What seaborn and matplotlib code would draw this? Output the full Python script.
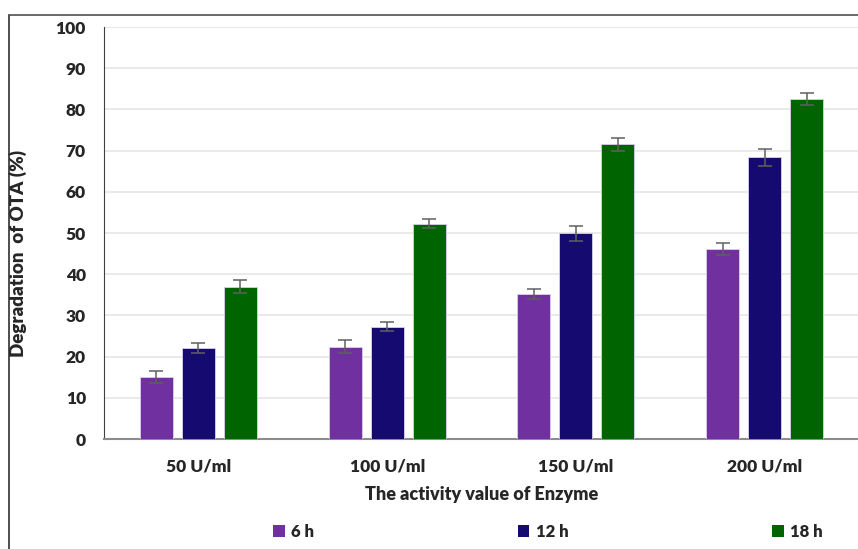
import numpy as np
import pandas as pd
import matplotlib.pyplot as plt
from matplotlib.lines import Line2D
from matplotlib.patches import Patch
import seaborn as sns

sns.set_style("white")
plt.rcParams['font.family'] = ['Lato', 'DejaVu Sans']

# data
enzyme = ["50 U/ml", "100 U/ml", "150 U/ml", "200 U/ml"]
times = ["6 h", "12 h", "18 h"]
deg_6h = [15.0, 22.4, 35.1, 46.1]
deg_12h = [22.0, 27.3, 49.9, 68.4]
deg_18h = [37.0, 52.3, 71.5, 82.6]
err_6h = [1.5, 1.6, 1.2, 1.5]
err_12h = [1.2, 1.0, 1.9, 2.1]
err_18h = [1.6, 1.2, 1.5, 1.5]
colors = ["#7030A0", "#150A70", "#006400"]

df = pd.DataFrame({
    "enzyme": enzyme * 3,
    "time": np.repeat(times, len(enzyme)),
    "value": deg_6h + deg_12h + deg_18h,
})
errs = [err_6h, err_12h, err_18h]

fig = plt.figure(figsize=(8.58, 5.49), dpi=100)
ax = fig.add_axes([104 / 858, 110 / 549, 755 / 858, 412 / 549])

sns.barplot(data=df, x="enzyme", y="value", hue="time", palette=colors,
            saturation=1, width=0.667, gap=0.21, ax=ax, errorbar=None,
            legend=False, edgecolor="#d8d0e8", linewidth=0.6, zorder=3)

# error bars drawn on bar centres
for cont, e in zip(ax.containers, errs):
    xs = [b.get_x() + b.get_width() / 2 for b in cont]
    ys = [b.get_height() for b in cont]
    ax.errorbar(xs, ys, yerr=e, fmt="none", ecolor="#606060", elinewidth=1.1,
                capsize=5, capthick=1.1, zorder=4)

ax.set_ylim(0, 100)
ax.set_xlim(-0.5, 3.5)
ax.set_yticks(range(0, 101, 10))
ax.yaxis.grid(True, color="#e6e6e6", lw=1.2, zorder=0)
ax.set_axisbelow(True)
for s in ["top", "right"]:
    ax.spines[s].set_visible(False)
ax.spines["left"].set_color("#404040")
ax.spines["bottom"].set_color("#8c8c8c")
ax.spines["bottom"].set_linewidth(1.5)
ax.tick_params(axis="x", length=0, labelsize=12.5, pad=14)
ax.tick_params(axis="y", length=0, labelsize=12.5, pad=13)
for lab in ax.get_xticklabels() + ax.get_yticklabels():
    lab.set_fontweight("heavy")
ax.set_xlabel("The activity value of Enzyme", fontsize=13, fontweight="heavy", labelpad=8)
ax.set_ylabel("Degradation  of OTA (%)", fontsize=13.5, fontweight="heavy")
ax.yaxis.set_label_coords(-0.102, 0.45)

handles = [Patch(facecolor=c, edgecolor="none") for c in colors]
fig.legend(handles, times, loc="center", bbox_to_anchor=(548 / 858, 1 - 532 / 549),
           ncol=3, frameon=False, columnspacing=12.2, handlelength=0.7, handleheight=0.7,
           handletextpad=0.4, prop={"weight": "heavy", "size": 12})

# outer frame (left and top edges)
fig.add_artist(Line2D([8.5 / 858, 8.5 / 858], [0, 1 - 15 / 549], color="#303030", lw=1.2))
fig.add_artist(Line2D([8.5 / 858, 1], [1 - 15 / 549, 1 - 15 / 549], color="#505050", lw=1.2))

fig.savefig("out.png", dpi=100)
